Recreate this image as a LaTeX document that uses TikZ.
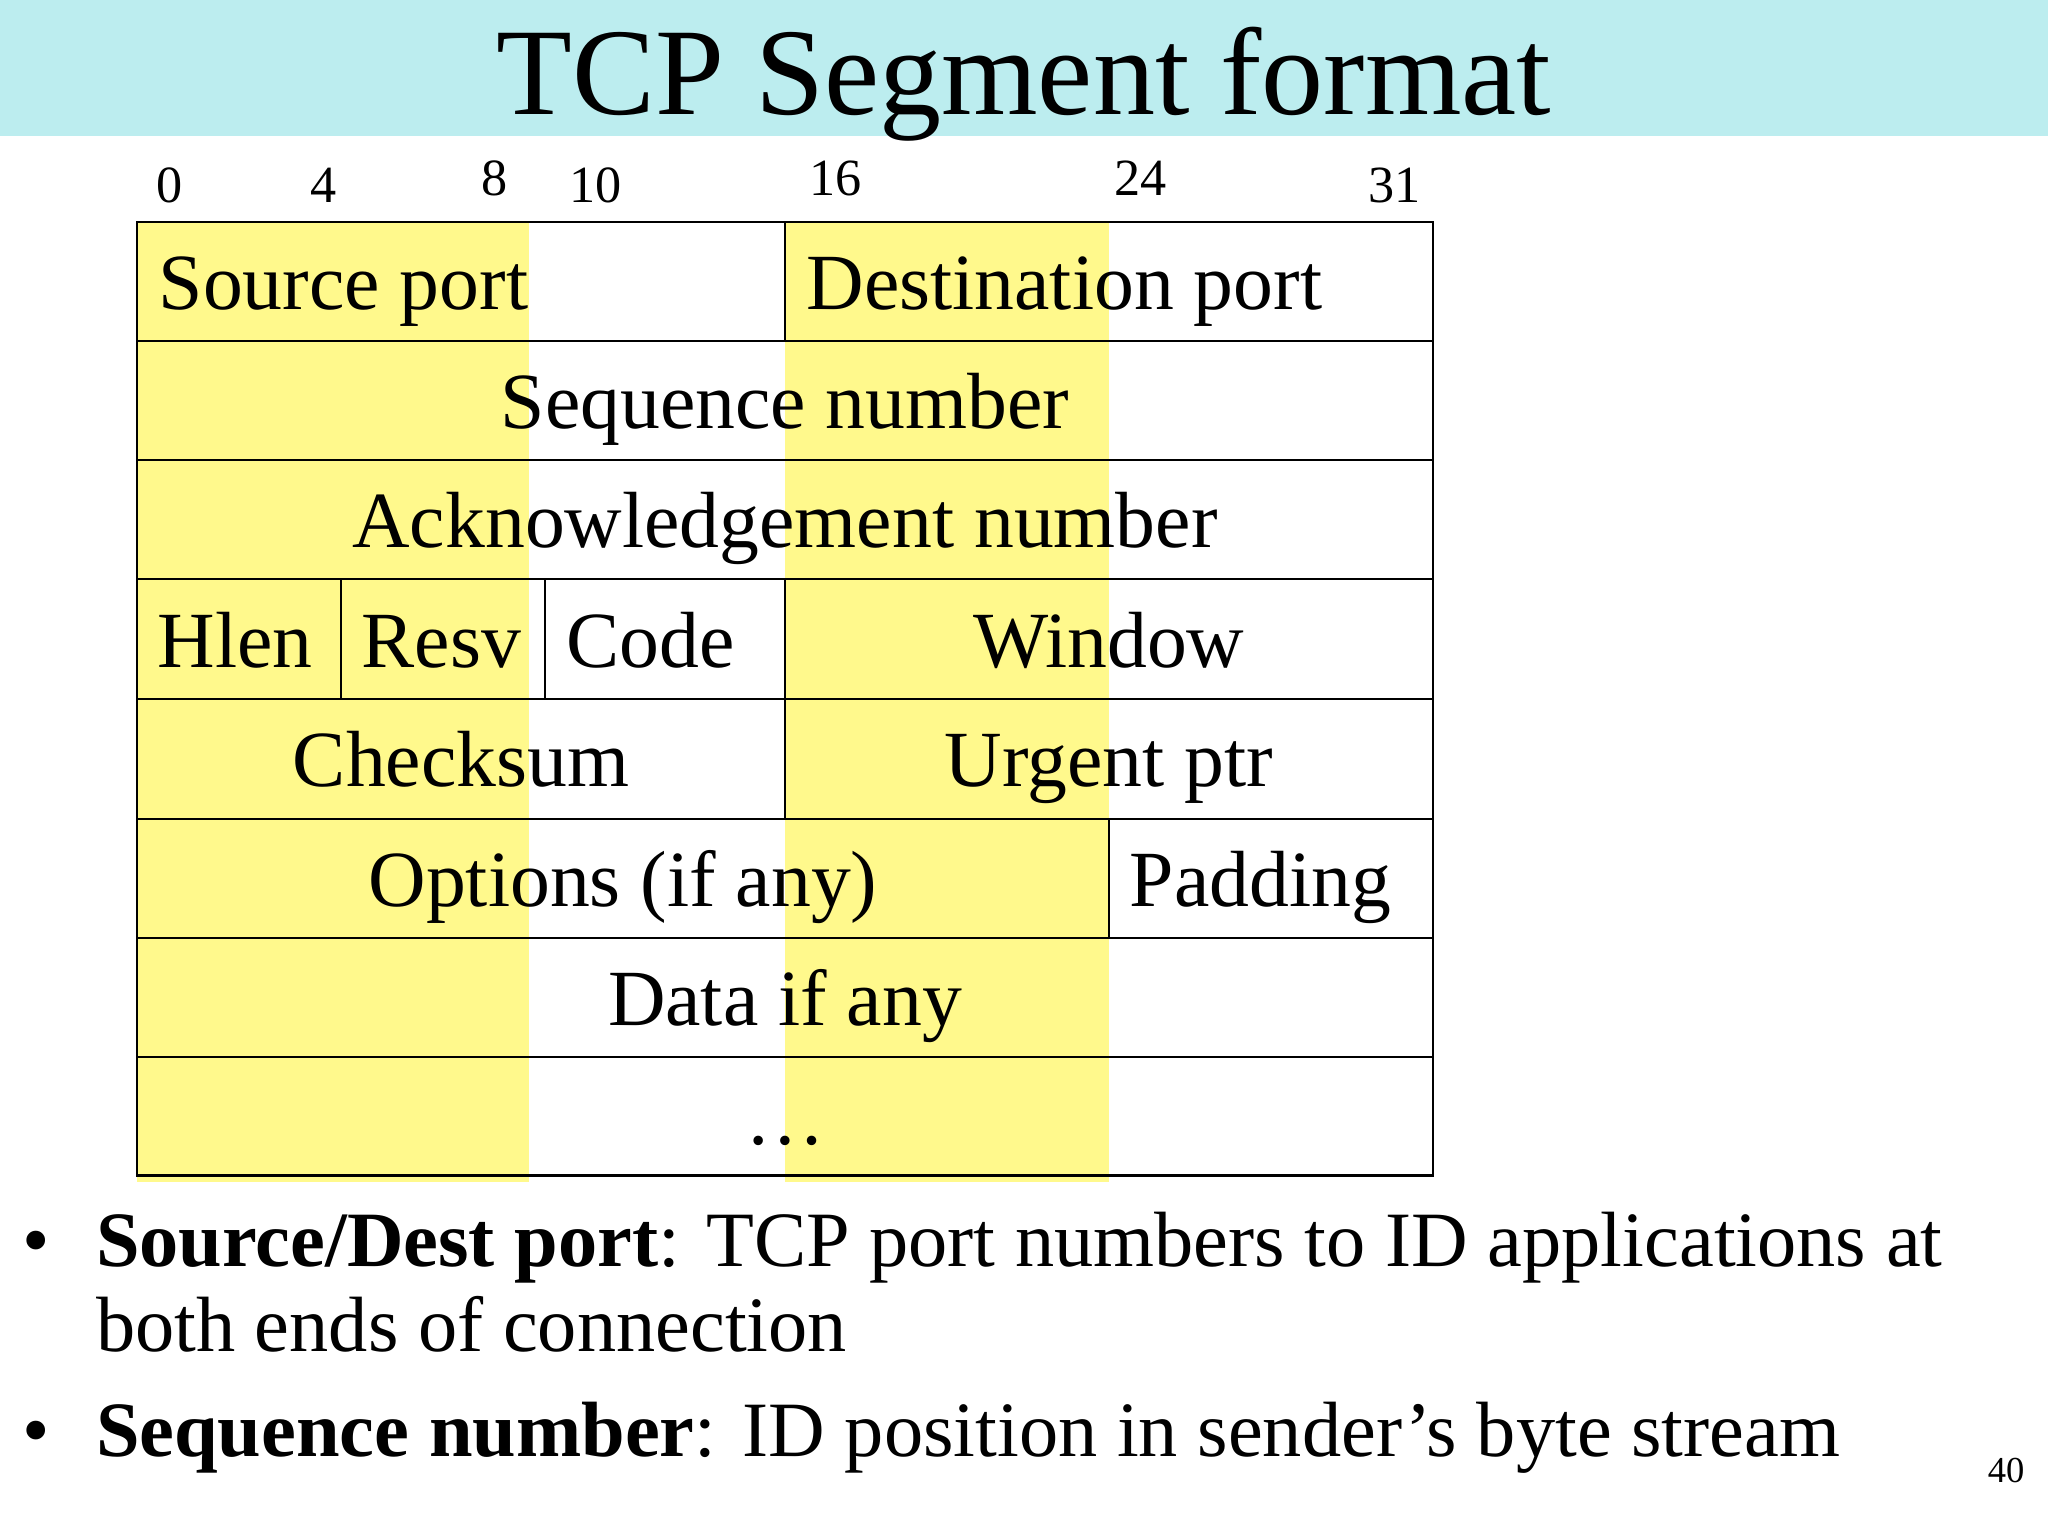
\documentclass[tikz,border=0pt]{standalone}
\usepackage{fontspec}
\setmainfont{Liberation Serif}
\definecolor{hdr}{HTML}{BCEDEF}
\begin{document}
\begin{tikzpicture}[x=1pt,y=-1pt,
  cell/.style={font=\fontsize{61}{63}\selectfont, anchor=base},
  num/.style={font=\fontsize{40}{42}\selectfont, anchor=base},
  bul/.style={font=\fontsize{60}{64}\selectfont, anchor=base west}]
\useasboundingbox (0,0) rectangle (1568,1176);
\fill[fill=white] (0,0) rectangle (1568,1176);
\fill[hdr] (0,0) rectangle (1568,104);
\node[font=\fontsize{95}{97}\selectfont, anchor=base] (title) at (784,88) {TCP Segment format};
% yellow bands
\fill[yellow!45] (105,170) rectangle (405,905);
\fill[yellow!45] (601,170) rectangle (849,905);
% grid
\draw[line width=1.6pt] (105,170) rectangle (1097,900);
\foreach \y in {261,352,443,535,627,718,809} \draw[line width=1.6pt] (105,\y) -- (1097,\y);
\draw[line width=1.6pt] (601,170) -- (601,261);
\draw[line width=1.6pt] (261,443) -- (261,535);
\draw[line width=1.6pt] (417,443) -- (417,535);
\draw[line width=1.6pt] (601,443) -- (601,627);
\draw[line width=1.6pt] (849,627) -- (849,718);
% numbers
\node[num] (n0) at (130,155) {0};
\node[num] (n4) at (248,155) {4};
\node[num] (n8) at (379,150) {8};
\node[num] (n10) at (456,155) {10};
\node[num] (n16) at (640,150) {16};
\node[num] (n24) at (873,150) {24};
\node[num] (n31) at (1068,155) {31};
% cells
\node[cell, anchor=base west] (sp) at (118,237) {Source port};
\node[cell, anchor=base west] (dp) at (614,237) {Destination port};
\node[cell] (sn) at (601,328) {Sequence number};
\node[cell] (an) at (601,419) {Acknowledgement number};
\node[cell] (hl) at (180,511) {Hlen};
\node[cell] (rs) at (338,511) {Resv};
\node[cell] (cd) at (498,511) {Code};
\node[cell] (wn) at (849,511) {Window};
\node[cell] (cs) at (353,602) {Checksum};
\node[cell] (up) at (849,602) {Urgent ptr};
\node[cell] (op) at (477,694) {Options (if any)};
\node[cell] (pd) at (965,694) {Padding};
\node[cell] (da) at (601,785) {Data if any};
\node[cell] (dt) at (601,876) {\dots};
% bullets
\node[bul] (b1) at (14,970) {•};
\node[bul] (t1) at (70,970) {\textbf{Source/Dest port}: TCP port numbers to ID applications at};
\node[bul] (t1b) at (70,1035) {both ends of connection};
\node[bul] (b2) at (14,1115) {•};
\node[bul] (t2) at (70,1115) {\textbf{Sequence number}: ID position in sender’s byte stream};
\node[font=\fontsize{28}{30}\selectfont, anchor=base] (pg) at (1536,1135) {40};
\end{tikzpicture}
\end{document}
